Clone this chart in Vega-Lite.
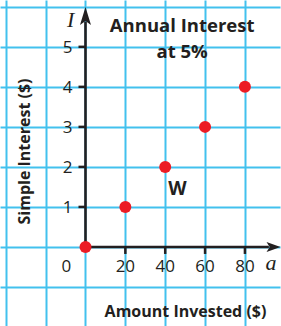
{
  "$schema": "https://vega.github.io/schema/vega-lite/v6.json",
  "width": 281,
  "height": 326,
  "autosize": {"type": "fit", "contains": "padding"},
  "padding": 0,
  "background": "white",
  "config": {"view": {"stroke": null}},
  "datasets": {
    "points": [{"a": 0, "I": 0}, {"a": 20, "I": 1}, {"a": 40, "I": 2}, {"a": 60, "I": 3}, {"a": 80, "I": 4}],
    "xlabels": [{"a": -9.65, "I": 0, "label": "0"}, {"a": 20, "I": 0, "label": "20"}, {"a": 40, "I": 0, "label": "40"}, {"a": 60, "I": 0, "label": "60"}, {"a": 80, "I": 0, "label": "80"}],
    "xticks": [{"a": 20, "I": 0}, {"a": 40, "I": 0}, {"a": 60, "I": 0}, {"a": 80, "I": 0}],
    "yticks": [{"a": 0, "I": 1}, {"a": 0, "I": 2}, {"a": 0, "I": 3}, {"a": 0, "I": 4}, {"a": 0, "I": 5}],
    "axes": [{"a": 0, "I": 0, "a2": 92, "I2": 0}, {"a": 0, "I": 0, "a2": 0, "I2": 5.63}],
    "arrows": [{"dir": "up", "a": 0, "I": 5.77}, {"dir": "right", "a": 94.35, "I": 0}],
    "notes": [
      {"kind": "title", "label": "Annual Interest", "a": 48.5, "I": 5.378},
      {"kind": "title", "label": "at 5%", "a": 48.5, "I": 4.72},
      {"kind": "var", "label": "I", "a": -7.4, "I": 5.49},
      {"kind": "var", "label": "a", "a": 93.1, "I": -0.5675},
      {"kind": "point", "label": "W", "a": 46.1, "I": 1.3075}
    ]
  },
  "layer": [
    {
      "data": {"name": "axes"},
      "mark": {"type": "rule", "color": "#231f20", "strokeWidth": 2.6},
      "encoding": {
        "x": {
          "field": "a", "type": "quantitative",
          "scale": {"domain": [-42.9, 97.6], "nice": false, "zero": false},
          "axis": {
            "values": [-40, -20, 0, 20, 40, 60, 80],
            "grid": true, "gridColor": "#42c1ee", "gridWidth": 2, "gridOpacity": 1,
            "labels": false, "ticks": false, "domain": false,
            "title": "Amount Invested ($)",
            "titleFont": "Open Sans", "titleFontSize": 16, "titleFontWeight": "bold", "titleColor": "#231f20",
            "titleX": 185, "titleY": -9.3, "titleBaseline": "alphabetic", "titleAlign": "center"
          }
        },
        "x2": {"field": "a2"},
        "y": {
          "field": "I", "type": "quantitative",
          "scale": {"domain": [-1.975, 6.17], "nice": false, "zero": false},
          "axis": {
            "values": [-1, 0, 1, 2, 3, 4, 5, 6],
            "grid": true, "gridColor": "#42c1ee", "gridWidth": 2, "gridOpacity": 1,
            "labels": false, "ticks": false, "domain": false,
            "title": "Simple Interest ($)",
            "titleFont": "Open Sans", "titleFontSize": 16, "titleFontWeight": "bold", "titleColor": "#231f20",
            "titleX": 29, "titleY": 151, "titleAngle": -90, "titleBaseline": "alphabetic", "titleAlign": "center"
          }
        },
        "y2": {"field": "I2"}
      }
    },
    {
      "data": {"name": "arrows"},
      "transform": [{"filter": "datum.dir == 'up'"}],
      "mark": {"type": "point", "filled": true, "opacity": 1, "color": "#231f20", "shape": "M0,-1L0.61,1L0,0.55L-0.61,1Z", "size": 324},
      "encoding": {"x": {"field": "a", "type": "quantitative"}, "y": {"field": "I", "type": "quantitative"}}
    },
    {
      "data": {"name": "arrows"},
      "transform": [{"filter": "datum.dir == 'right'"}],
      "mark": {"type": "point", "filled": true, "opacity": 1, "color": "#231f20", "shape": "M1,0L-1,-0.72L-0.55,0L-1,0.72Z", "size": 196},
      "encoding": {"x": {"field": "a", "type": "quantitative"}, "y": {"field": "I", "type": "quantitative"}}
    },
    {
      "data": {"name": "yticks"},
      "mark": {"type": "tick", "orient": "horizontal", "color": "#231f20", "size": 7, "thickness": 2.5, "xOffset": -3.5, "opacity": 1},
      "encoding": {"x": {"field": "a", "type": "quantitative"}, "y": {"field": "I", "type": "quantitative"}}
    },
    {
      "data": {"name": "xticks"},
      "mark": {"type": "tick", "orient": "vertical", "color": "#231f20", "size": 7, "thickness": 2.5, "yOffset": 3.5, "opacity": 1},
      "encoding": {"x": {"field": "a", "type": "quantitative"}, "y": {"field": "I", "type": "quantitative"}}
    },
    {
      "data": {"name": "yticks"},
      "mark": {"type": "text", "font": "Open Sans", "fontSize": 17, "color": "#231f20", "align": "right", "baseline": "middle", "dx": -13, "dy": 1.5},
      "encoding": {"x": {"field": "a", "type": "quantitative"}, "y": {"field": "I", "type": "quantitative"}, "text": {"field": "I", "type": "quantitative"}}
    },
    {
      "data": {"name": "xlabels"},
      "mark": {"type": "text", "font": "Open Sans", "fontSize": 17, "color": "#231f20", "align": "center", "baseline": "middle", "dy": 19.7},
      "encoding": {"x": {"field": "a", "type": "quantitative"}, "y": {"field": "I", "type": "quantitative"}, "text": {"field": "label"}}
    },
    {
      "data": {"name": "notes"},
      "transform": [{"filter": "datum.kind == 'title'"}],
      "mark": {"type": "text", "font": "Open Sans", "fontSize": 18.5, "fontWeight": "bold", "color": "#231f20", "align": "center", "baseline": "alphabetic"},
      "encoding": {"x": {"field": "a", "type": "quantitative"}, "y": {"field": "I", "type": "quantitative"}, "text": {"field": "label"}}
    },
    {
      "data": {"name": "notes"},
      "transform": [{"filter": "datum.kind == 'var'"}],
      "mark": {"type": "text", "font": "Liberation Serif", "fontSize": 22, "fontStyle": "italic", "color": "#231f20", "align": "center", "baseline": "alphabetic"},
      "encoding": {"x": {"field": "a", "type": "quantitative"}, "y": {"field": "I", "type": "quantitative"}, "text": {"field": "label"}}
    },
    {
      "data": {"name": "notes"},
      "transform": [{"filter": "datum.kind == 'point'"}],
      "mark": {"type": "text", "font": "Open Sans", "fontSize": 19, "fontWeight": "bold", "color": "#231f20", "align": "center", "baseline": "alphabetic"},
      "encoding": {"x": {"field": "a", "type": "quantitative"}, "y": {"field": "I", "type": "quantitative"}, "text": {"field": "label"}}
    },
    {
      "data": {"name": "points"},
      "mark": {"type": "point", "shape": "circle", "filled": true, "opacity": 1, "color": "#ec1c24", "size": 144},
      "encoding": {"x": {"field": "a", "type": "quantitative"}, "y": {"field": "I", "type": "quantitative"}}
    }
  ]
}
